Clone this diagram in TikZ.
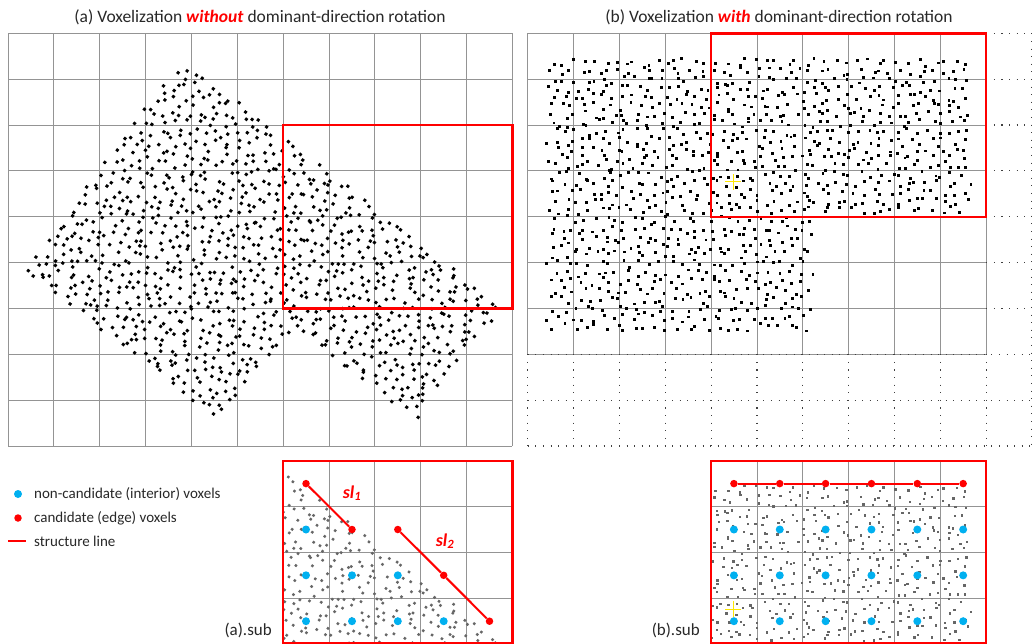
\documentclass[tikz,border=0pt]{standalone}
\usepackage{fontspec}
\setmainfont{Carlito}
\definecolor{cyanb}{RGB}{0,176,240}
\definecolor{txt}{RGB}{40,40,40}
% jittered hexagonal sampling of a rectangle
% #1 v0, #2 number per row, #3 rows, #4 du, #5 dv, #6 dot size
\newcommand{\hexrect}[6]{%
  \foreach \j in {1,...,#3}{\foreach \i in {1,...,#2}{%
    \pgfmathsetmacro\xx{(\i-0.75+0.5*mod(\j,2))*#4+4.3*rand}%
    \pgfmathsetmacro\yy{#1+(\j-0.5)*#5+4.1*rand}%
    \fill[ptc] (\xx,\yy) rectangle ++(#6,#6);}}%
}
\newcommand{\ptcloudA}[1]{%
  \pgfmathsetseed{4242}%
  \hexrect{0}{40}{17}{10.05}{8.59}{#1}%
  \hexrect{146}{25}{14}{9.92}{8.57}{#1}%
}
\newcommand{\ptcloudB}[1]{%
  \pgfmathsetseed{777}%
  \hexrect{0}{42}{18}{10.05}{8.67}{#1}%
  \hexrect{156}{26}{13}{10.15}{9.0}{#1}%
}
\begin{document}
\begin{tikzpicture}[x=1pt,y=-1pt,
  gridl/.style={draw=black!42, line width=0.9pt},
  redbox/.style={draw=red, line width=2.4pt},
  dotl/.style={draw=black!75, line width=1.1pt, dash pattern=on 1.1pt off 6.5pt},
  rdot/.style={circle, fill=red, inner sep=0pt, minimum size=7.5pt},
  bdot/.style={circle, fill=cyanb, inner sep=0pt, minimum size=8pt},
  sline/.style={draw=red, line width=2pt},
  ycross/.style={draw=yellow!90!orange, line width=1pt},
  ptc/.style={fill=black},
  ttl/.style={font=\fontsize{17.5}{20}\selectfont, text=txt, inner sep=0pt},
  lgd/.style={font=\fontsize{15}{18}\selectfont, text=txt, anchor=west, inner sep=0pt},
  sublbl/.style={font=\fontsize{17}{20}\selectfont, text=txt, anchor=east, inner sep=0pt},
  sll/.style={font=\fontsize{18}{20}\selectfont\bfseries\itshape, text=red, inner sep=0pt}
]
\useasboundingbox (0,0) rectangle (1032,643);
\fill[white] (0,0) rectangle (1032,643);

% titles
\node[ttl] (ta) at (260,17) {(a) Voxelization \textcolor{red}{\textbf{\textit{without}}} dominant-direction rotation};
\node[ttl] (tb) at (779,17) {(b) Voxelization \textcolor{red}{\textbf{\textit{with}}} dominant-direction rotation};

% ---------- left grid ----------
\foreach \k in {0,...,11} \draw[gridl] ({8+\k*45.85},33.3) -- ({8+\k*45.85},445.95);
\foreach \k in {0,...,9} \draw[gridl] (8,{33.3+\k*45.85}) -- (512.35,{33.3+\k*45.85});
\begin{scope}[shift={(184,58)}, rotate=-37.5]
  \ptcloudA{2.9}
\end{scope}
\draw[redbox] (283.1,125) rectangle (512.35,308.4);

% ---------- right grid ----------
\foreach \k in {0,...,10} \draw[gridl] ({527.7+\k*45.85},33.3) -- ({527.7+\k*45.85},354.25);
\foreach \k in {0,...,7} \draw[gridl] (527.7,{33.3+\k*45.85}) -- (986.2,{33.3+\k*45.85});
% dotted continuation
\foreach \k in {0,...,10} \draw[dotl] ({527.7+\k*45.85},354.25) -- ({527.7+\k*45.85},446);
\foreach \y in {354.25,400.1,445.95} \draw[dotl] (527.7,\y) -- (1032,\y);
\foreach \k in {0,...,6} \draw[dotl] (986.2,{33.3+\k*45.85}) -- (1032,{33.3+\k*45.85});
\draw[dotl] (1031.2,33.3) -- (1031.2,446);
\begin{scope}[shift={(546,57)}]
  \ptcloudB{2.9}
\end{scope}
\draw[ycross] (725,181.7) -- (741,181.7) (733,174) -- (733,190);
\draw[redbox] (711.1,33.3) rectangle (986.2,216.7);

% ---------- legend ----------
\node[bdot] (lb) at (18,494) {};
\node[lgd] (lbt) at (34,494) {non-candidate (interior) voxels};
\node[rdot] (lr) at (18,518) {};
\node[lgd] (lrt) at (34,518) {candidate (edge) voxels};
\coordinate (ll1) at (8,541);
\coordinate (ll2) at (26,541);
\draw[draw=red, line width=1.3pt] (ll1) -- (ll2);
\node[lgd] (llt) at (34,541) {structure line};

% ---------- sub a ----------
\foreach \k in {0,...,5} \draw[gridl] ({283.1+\k*45.85},460.7) -- ({283.1+\k*45.85},643);
\foreach \k in {1,...,3} \draw[gridl] (283.1,{460.7+\k*45.85}) -- (512.35,{460.7+\k*45.85});
\begin{scope}
  \clip (283.1,460.7) rectangle (512.35,643);
  \begin{scope}[shift={(0,335.7)}, ptc/.style={fill=black!60}]
    \begin{scope}[shift={(184,58)}, rotate=-37.5]
      \ptcloudA{2.4}
    \end{scope}
  \end{scope}
\end{scope}
\foreach \x/\y in {306/529.5, 306/575.3, 352/575.3, 397.8/575.3, 306/621.2, 352/621.2, 397.8/621.2, 443.7/621.2}
  \node[bdot] at (\x,\y) {};
\node[rdot] (a1) at (306,483.6) {};
\node[rdot] (a2) at (352,529.5) {};
\node[rdot] (b1) at (397.8,529.5) {};
\node[rdot] (b2) at (443.7,575.3) {};
\node[rdot] (b3) at (489.5,621.2) {};
\draw[sline] (a1) -- (a2);
\draw[sline] (b1) -- (b2) -- (b3);
\node[sll] (s1) at (352,493) {sl\textsubscript{1}};
\node[sll] (s2) at (445,541) {sl\textsubscript{2}};
\draw[redbox] (283.1,460.7) rectangle (512.35,643.6);
\node[sublbl] (suba) at (272,630) {(a).sub};

% ---------- sub b ----------
\foreach \k in {0,...,6} \draw[gridl] ({711.1+\k*45.85},460.7) -- ({711.1+\k*45.85},643);
\foreach \k in {1,...,3} \draw[gridl] (711.1,{460.7+\k*45.85}) -- (986.2,{460.7+\k*45.85});
\begin{scope}
  \clip (711.1,460.7) rectangle (986.2,643);
  \begin{scope}[shift={(0,427.4)}, ptc/.style={fill=black!60}]
    \begin{scope}[shift={(546,57)}]
      \ptcloudB{2.4}
    \end{scope}
  \end{scope}
\end{scope}
\draw[ycross] (725,609.1) -- (741,609.1) (733,601.4) -- (733,617.4);
\foreach \r in {0,...,2}
  \foreach \k in {0,...,5}
    \node[bdot] at ({733.9+\k*45.85},{529.5+\r*45.85}) {};
\foreach \k in {1,...,6}
  \node[rdot] (c\k) at ({733.9+(\k-1)*45.85},483.6) {};
\draw[sline] (c1) -- (c2) -- (c3) -- (c4) -- (c5) -- (c6);
\draw[redbox] (711.1,460.7) rectangle (986.2,643.6);
\node[sublbl] (subb) at (700,630) {(b).sub};
\end{tikzpicture}
\end{document}
